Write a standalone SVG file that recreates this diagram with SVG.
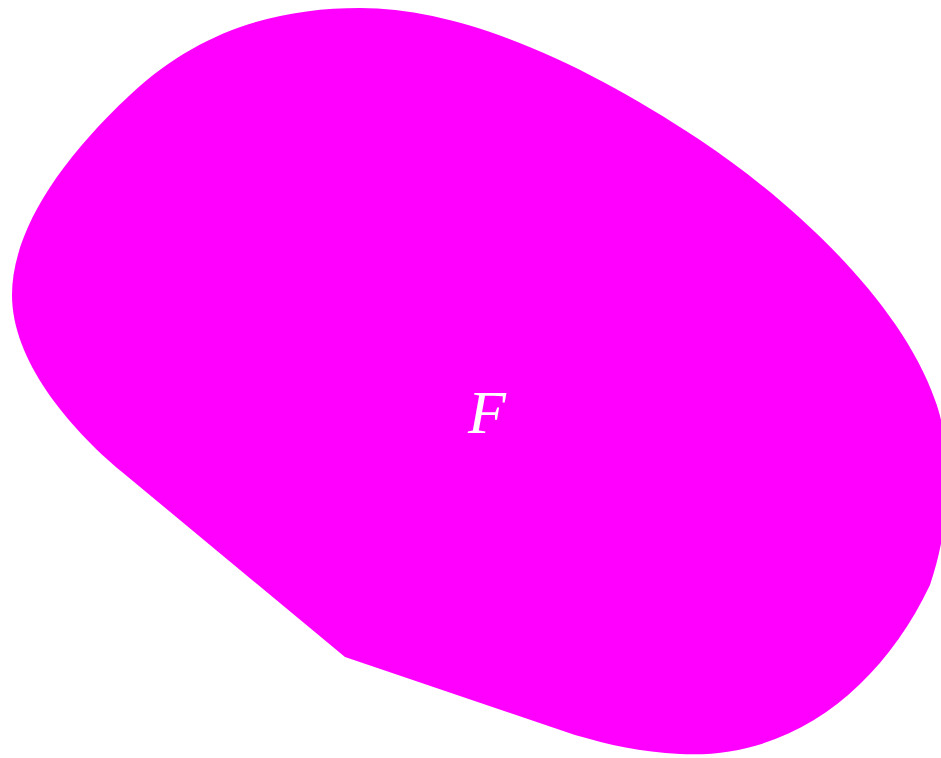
<svg xmlns="http://www.w3.org/2000/svg" width="941" height="758" viewBox="0 0 941 758">
<style>
.region{fill:#ff00ff;stroke:none}
.lbl{font-family:"Liberation Serif","DejaVu Serif",serif;font-style:italic;font-size:62px;fill:#ffffff;text-anchor:middle}
</style>
<rect width="941" height="758" fill="#ffffff"/>
<g id="F">
<path class="region" d="M 345 657 L 122 472 C 68 427 12 360 12 295 C 12 235 55 165 130 95 C 200 29 280 8 360 8 C 460 8 580 60 700 140 C 790 200 900 300 935 400 C 950 440 955 510 930 585 C 880 690 790 760 680 754 C 640 752 610 745 575 735 Z"/>
<text class="lbl" x="487" y="433">F</text>
</g>
</svg>
